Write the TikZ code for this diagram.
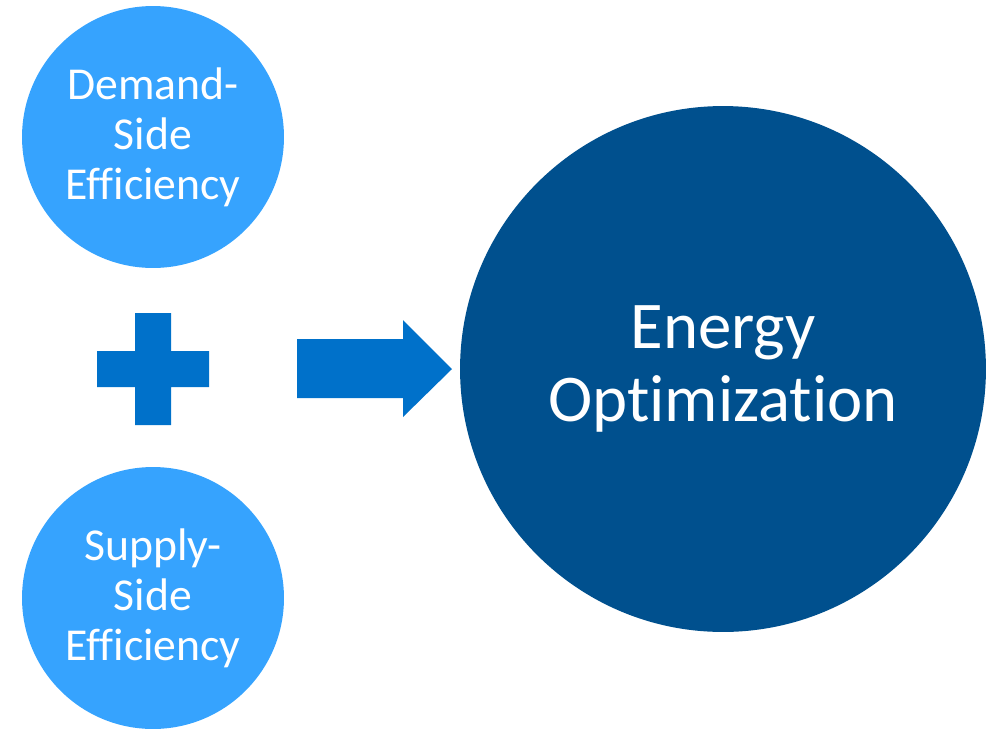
\documentclass[tikz,border=0pt]{standalone}
\usepackage{fontspec}
\setmainfont{Carlito}[Ligatures=NoCommon]
\usetikzlibrary{positioning}
\definecolor{lightblu}{HTML}{36A3FE}
\definecolor{midblu}{HTML}{0071CA}
\definecolor{darkblu}{HTML}{00508E}

\begin{document}
\begin{tikzpicture}[x=0.02cm, y=-0.02cm,
        part/.style={circle, fill=lightblu, text=white, minimum size=5.24cm,
                     inner sep=0pt, align=center,
                     font=\fontsize{26}{28.5}\selectfont},
        goal/.style={circle, fill=darkblu, text=white, minimum size=10.52cm,
                     inner sep=0pt, align=center,
                     font=\fontsize{38}{41.5}\selectfont},
        sym/.style={fill=midblu}
    ]
        \useasboundingbox (0,0) rectangle (992,728);

        \node[part] (ds) at (153,137) {Demand-\\Side\\Efficiency};
        \node[part] (ss) at (153,598) {Supply-\\Side\\Efficiency};
        \node[goal] (eo) at (723,369) {Energy\\Optimization};

        % plus sign between the two circles
        \fill[sym] (135,313) -- (171,313) -- (171,351) -- (209,351) -- (209,387)
            -- (171,387) -- (171,425) -- (135,425) -- (135,387) -- (97,387)
            -- (97,351) -- (135,351) -- cycle;

        % block arrow towards the big circle
        \fill[sym] (297,339) -- (403,339) -- (403,320) -- (452,369) -- (403,417)
            -- (403,398) -- (297,398) -- cycle;
    \end{tikzpicture}
\end{document}
